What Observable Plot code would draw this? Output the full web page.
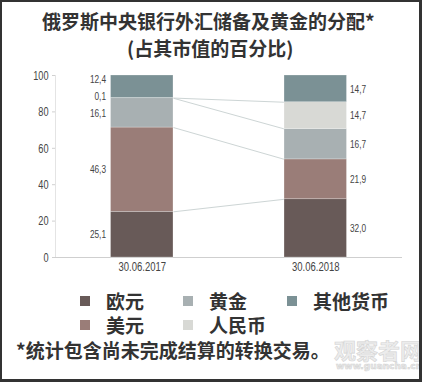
<!DOCTYPE html>
<html><head><meta charset="utf-8">
<script src="https://cdn.jsdelivr.net/npm/d3@7"></script>
<script src="https://cdn.jsdelivr.net/npm/@observablehq/plot@0.6"></script>
<style>
body{margin:0;background:#fff;}
#page{position:relative;width:422px;height:382px;overflow:hidden;background:#fff;font-family:"Noto Sans CJK SC",sans-serif;color:#333;}
#frame{position:absolute;left:0;top:0;width:422px;height:382px;box-sizing:border-box;border-style:solid;border-color:#333;border-width:2px 3px 3px 2px;z-index:10;}
.t{position:absolute;font-weight:bold;font-size:19px;line-height:1;white-space:nowrap;color:#333;}
#chart{position:absolute;left:0;top:55px;}
.sw{position:absolute;width:10px;height:10px;}
.wm{position:absolute;color:#ececec;font-weight:bold;white-space:nowrap;line-height:1;-webkit-text-stroke:0.6px #d4d4d4;}
</style></head>
<body><div id="page"><div id="frame"></div>
<div class="t" id="title" style="left:42px;top:11px;"></div>
<div class="t" id="subtitle" style="left:127px;top:38px;"></div>
<div id="chart"></div>
<div id="legend"></div>
<div class="t" id="note" style="left:16px;top:340px;"></div>
<div class="wm" style="left:334px;top:338px;font-size:22px;">观察者网</div>
<div class="wm" style="left:336px;top:362px;font-size:9px;font-family:'DejaVu Sans';">www.guancha.cn</div>
</div>
<script>
const titleText = "俄罗斯中央银行外汇储备及黄金的分配*";
const subtitleText = "(占其市值的百分比)";
const noteText = "*统计包含尚未完成结算的转换交易。";
const dates = ["30.06.2017", "30.06.2018"];
const currencies = ["欧元", "美元", "黄金", "人民币", "其他货币"];
const colors = ["#685a58", "#9a7d78", "#a8b0b2", "#d8d9d5", "#7b9195"];
const share2017 = [25.1, 46.3, 16.1, 0.1, 12.4];
const share2018 = [32.0, 21.9, 16.7, 14.7, 14.7];
const yTicks = [0, 20, 40, 60, 80, 100];

document.getElementById("title").textContent = titleText;
document.getElementById("subtitle").textContent = subtitleText;
document.getElementById("note").textContent = noteText;

const hw = 0.18; // half bar width in x units
const series = [share2017, share2018];
const rows = [];
series.forEach((vals, i) => {
  let c = 0;
  vals.forEach((v, k) => {
    rows.push({i, currency: currencies[k], value: v, y1: c, y2: c + v, mid: c + v / 2});
    c += v;
  });
});

// dodge labels of first bar so they don't overlap (min gap in data units)
const gap = 9.3;
function dodge(list) {
  const out = list.map(d => ({...d, ly: d.mid}));
  for (let k = 1; k < out.length; k++) {
    if (out[k].ly < out[k - 1].ly + gap) out[k].ly = out[k - 1].ly + gap;
  }
  return out;
}
const lab1 = dodge(rows.filter(d => d.i === 0));
const lab2 = rows.filter(d => d.i === 1).map(d => ({...d, ly: d.mid}));
const fmt = v => v.toFixed(1).replace(".", ",");

const links = [];
for (let k = 0; k < currencies.length - 1; k++) {
  links.push({a: rows[k].y2, b: rows[currencies.length + k].y2});
}

const plot = Plot.plot({
  width: 422, height: 225,
  marginLeft: 55, marginRight: 20, marginTop: 20, marginBottom: 23,
  x: {domain: [-0.5, 1.5], axis: null},
  y: {domain: [0, 100], axis: null},
  color: {domain: currencies, range: colors},
  style: {fontFamily: "'Liberation Sans',Arial,sans-serif", fontSize: "13px", color: "#444", background: "transparent"},
  marks: [
    Plot.ruleX([-0.5], {y1: 0, y2: 100, stroke: "#e4e4e4"}),
    Plot.ruleY([0], {stroke: "#cfcfcf"}),
    Plot.link(links, {x1: hw, x2: 1 - hw, y1: "a", y2: "b", stroke: "#cdd5d5", strokeWidth: 1}),
    Plot.rect(rows, {x1: d => d.i - hw, x2: d => d.i + hw, y1: "y1", y2: "y2", fill: "currency", stroke: "#fff", strokeOpacity: 0.4, strokeWidth: 0.6}),
    Plot.text(lab1, {x: d => d.i - hw, y: "ly", text: d => fmt(d.value), textAnchor: "end", dx: -5, fill: "#444"}),
    Plot.text(lab2, {x: d => d.i + hw, y: "ly", text: d => fmt(d.value), textAnchor: "start", dx: 3, fill: "#444"}),
    Plot.axisY({ticks: yTicks, tickSize: 3, tickPadding: 4, stroke: "#d0d0d0", label: null}),
    Plot.axisX({ticks: [0, 1], tickFormat: i => dates[i], tickSize: 0, tickPadding: 5, label: null})
  ]
});
document.getElementById("chart").appendChild(plot);

// condense numeric labels (the reference uses a condensed typeface)
function condense(selector, size, s) {
  plot.querySelectorAll(selector).forEach(g => {
    g.style.fontSize = size + "px";
    g.querySelectorAll("text").forEach(el => {
      el.style.fontSize = size + "px";
      const w = el.getComputedTextLength();
      el.setAttribute("textLength", (w * s).toFixed(2));
      el.setAttribute("lengthAdjust", "spacingAndGlyphs");
    });
  });
}
condense('g[aria-label="y-axis tick label"]', 13.5, 0.68);
condense('g[aria-label="x-axis tick label"]', 12.5, 0.76);
condense('g[aria-label="text"]', 11.5, 0.72);

const legend = document.getElementById("legend");
const colX = [80, 183, 287];
const rowY = [296, 320];
currencies.forEach((c, k) => {
  const col = Math.floor(k / 2), row = k % 2;
  const sw = document.createElement("div");
  sw.className = "sw";
  sw.style.left = colX[col] + "px";
  sw.style.top = rowY[row] + "px";
  sw.style.background = colors[k];
  legend.appendChild(sw);
  const t = document.createElement("div");
  t.className = "t";
  t.style.left = (colX[col] + 26) + "px";
  t.style.top = (rowY[row] - 5) + "px";
  t.textContent = c;
  legend.appendChild(t);
});
</script>
</body></html>
